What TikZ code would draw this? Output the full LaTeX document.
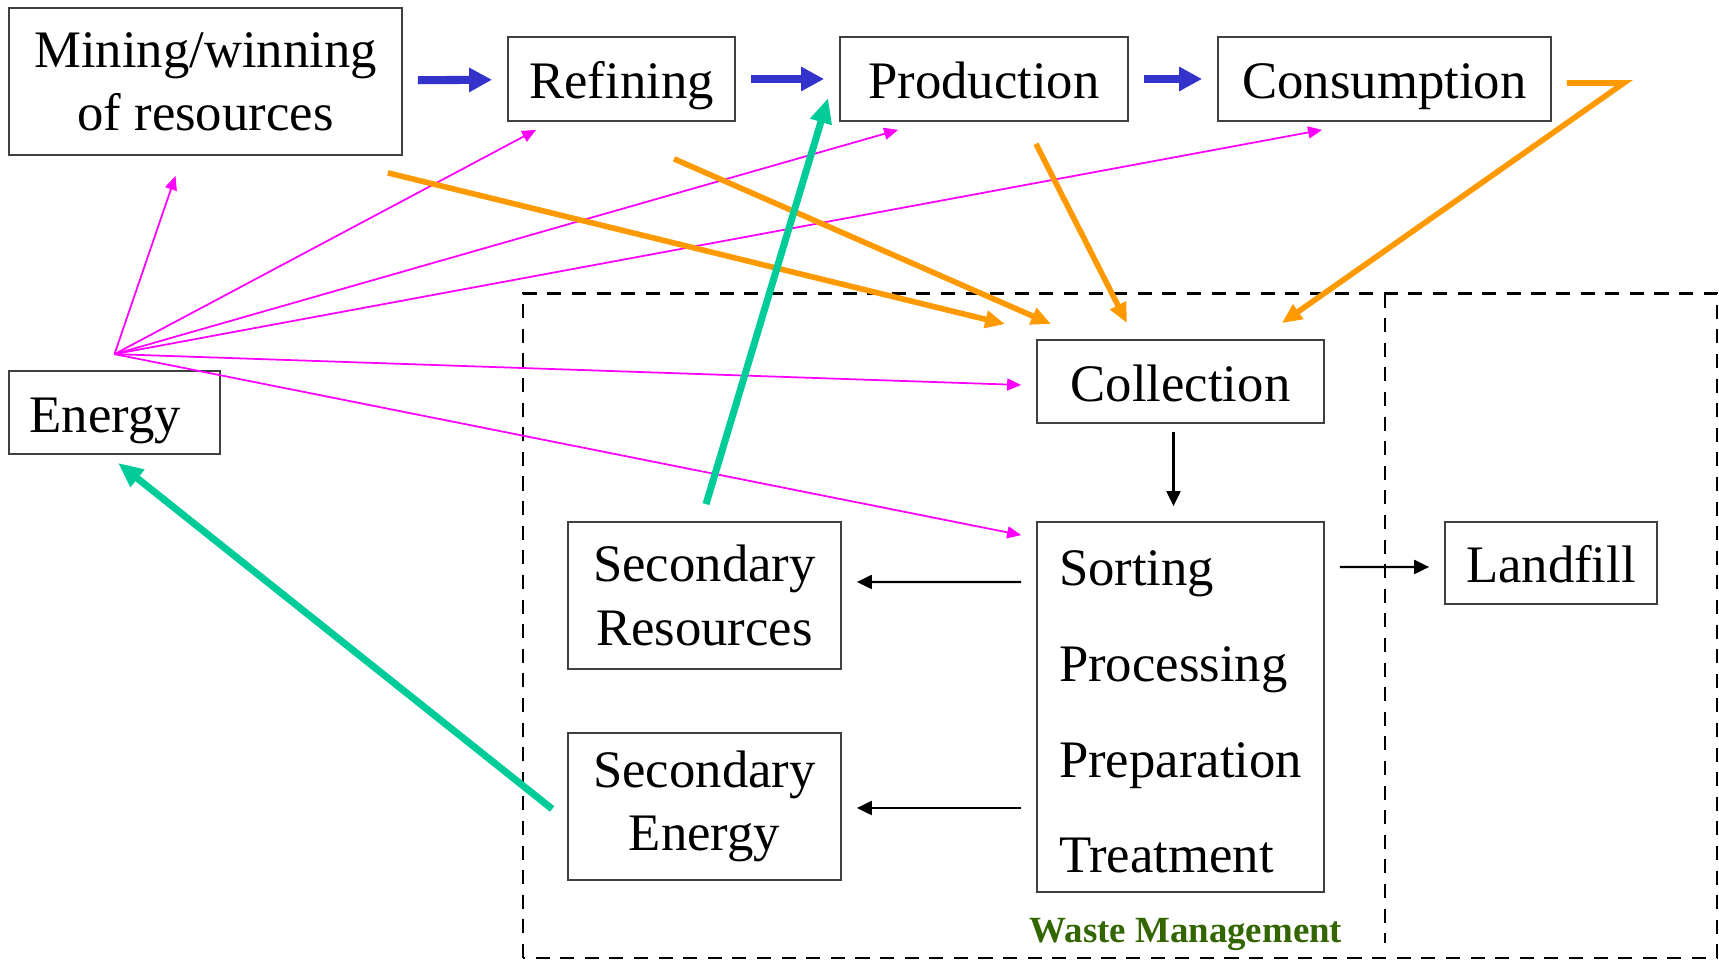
\documentclass[tikz,border=0pt]{standalone}
\usepackage{fontspec}
\setmainfont{Liberation Serif}
\usetikzlibrary{arrows.meta}

\definecolor{flowblue}{HTML}{3333CC}
\definecolor{energypink}{HTML}{FF00FF}
\definecolor{wasteorange}{HTML}{FF9900}
\definecolor{backgreen}{HTML}{00CC99}
\definecolor{wmgreen}{HTML}{336600}

\begin{document}
\begin{tikzpicture}[
	box/.style={draw=black!75, line width=0.5pt, inner sep=0pt, align=center, font=\fontsize{15}{18}\selectfont},
	onebox/.style={box, text height=0.4cm, text depth=0pt},
	main/.style={draw=flowblue, line width=2.3pt, -{Triangle[length=0.23cm,width=0.23cm]}, shorten <=0.15cm, shorten >=0.15cm},
	feed/.style={draw=energypink, line width=0.5pt, -{Triangle[length=0.14cm,width=0.12cm]}},
	waste/.style={draw=wasteorange, line width=1.6pt, -{Triangle[length=0.2cm,width=0.17cm]}},
	back/.style={draw=backgreen, line width=2pt, -{Triangle[length=0.25cm,width=0.21cm]}},
	link/.style={draw=black, line width=0.6pt, -{Triangle[length=0.15cm,width=0.14cm]}, shorten <=0.15cm, shorten >=0.15cm},
	zone/.style={draw=black, line width=0.6pt, dash pattern=on 4pt off 3pt}
	]
	\useasboundingbox (0,0) rectangle (17.19,9.61);

	\node at (2.055,8.795) [box, minimum width=3.93cm, minimum height=1.47cm] (mine) {Mining/winning\\of resources};
	\node at (6.215,8.82) [onebox, minimum width=2.27cm, minimum height=0.84cm] (refine) {Refining};
	\node at (9.84,8.82) [onebox, minimum width=2.88cm, minimum height=0.84cm] (prod) {Production};
	\node at (13.845,8.82) [onebox, minimum width=3.33cm, minimum height=0.84cm] (cons) {Consumption};
	\node at (1.145,5.485) [onebox, minimum height=0.83cm, text width=1.7cm, inner xsep=0.205cm, align=left] (energy) {Energy};
	\node at (11.805,5.795) [onebox, minimum width=2.87cm, minimum height=0.83cm] (coll) {Collection};
	\node at (11.805,2.54) [box, minimum width=2.87cm, minimum height=3.7cm, align=left, font=\fontsize{15}{27.2}\selectfont] (sort) {\rule{0pt}{0.45cm}Sorting\\Processing\\Preparation\\Treatment};
	\node at (7.045,3.655) [box, minimum width=2.73cm, minimum height=1.47cm] (secres) {Secondary\\Resources};
	\node at (7.045,1.545) [box, minimum width=2.73cm, minimum height=1.47cm] (secen) {Secondary\\Energy};
	\node at (15.51,3.98) [onebox, minimum width=2.12cm, minimum height=0.82cm] (land) {Landfill};
	\node at (11.86,0.18) [anchor=base, text=wmgreen, font=\fontsize{10.5}{12}\selectfont\bfseries] (wm) {Waste Management};
	\coordinate (hub) at ([yshift=0.16cm]energy.north);

	\draw [zone] (5.23,0.03) rectangle (17.17,6.675);
	\draw [zone] (13.85,6.675) -- (13.85,0.18);

	\draw [feed] (hub) -- ([xshift=-0.3cm,yshift=-0.2cm]mine.south);
	\draw [feed] (hub) -- ([xshift=0.29cm,yshift=-0.08cm]refine.south west);
	\draw [feed] (hub) -- ([xshift=0.59cm,yshift=-0.08cm]prod.south west);
	\draw [feed] (hub) -- ([xshift=1.05cm,yshift=-0.08cm]cons.south west);
	\draw [feed] (hub) -- ([xshift=-0.15cm,yshift=-0.035cm]coll.west);
	\draw [feed] (hub) -- ([xshift=-0.15cm,yshift=-0.14cm]sort.north west);

	\draw [waste] ([xshift=-0.15cm,yshift=-0.17cm]mine.south east) -- ([xshift=-0.31cm,yshift=0.15cm]coll.north west);
	\draw [waste] ([xshift=0.525cm,yshift=-0.37cm]refine.south) -- ([xshift=0.15cm,yshift=0.15cm]coll.north west);
	\draw [waste] ([xshift=0.52cm,yshift=-0.22cm]prod.south) -- ([xshift=-0.535cm,yshift=0.16cm]coll.north);
	\draw [waste] ([xshift=0.15cm,yshift=-0.04cm]cons.east) -- ++(0.57,0) -- ([xshift=-0.43cm,yshift=0.16cm]coll.north east);

	\draw [back] ([xshift=0.015cm,yshift=0.17cm]secres.north) -- ([xshift=-0.11cm,yshift=-0.19cm]prod.west);
	\draw [back] ([xshift=-0.15cm,yshift=-0.025cm]secen.west) -- ([xshift=0.035cm,yshift=-0.08cm]energy.south);

	\draw [main] (mine) -- (refine);
	\draw [main] (refine) -- (prod);
	\draw [main] (prod) -- (cons);

	\draw [link, shorten <=0.08cm] ([xshift=-0.07cm]coll.south) -- ([xshift=-0.07cm]sort.north);
	\draw [link] ([yshift=1.25cm]sort.west) -- ([yshift=0.135cm]secres.east);
	\draw [link] ([yshift=-1.01cm]sort.west) -- ([yshift=-0.015cm]secen.east);
	\draw [link] ([yshift=1.4cm]sort.east) -- ([yshift=-0.04cm]land.west);
\end{tikzpicture}
\end{document}
